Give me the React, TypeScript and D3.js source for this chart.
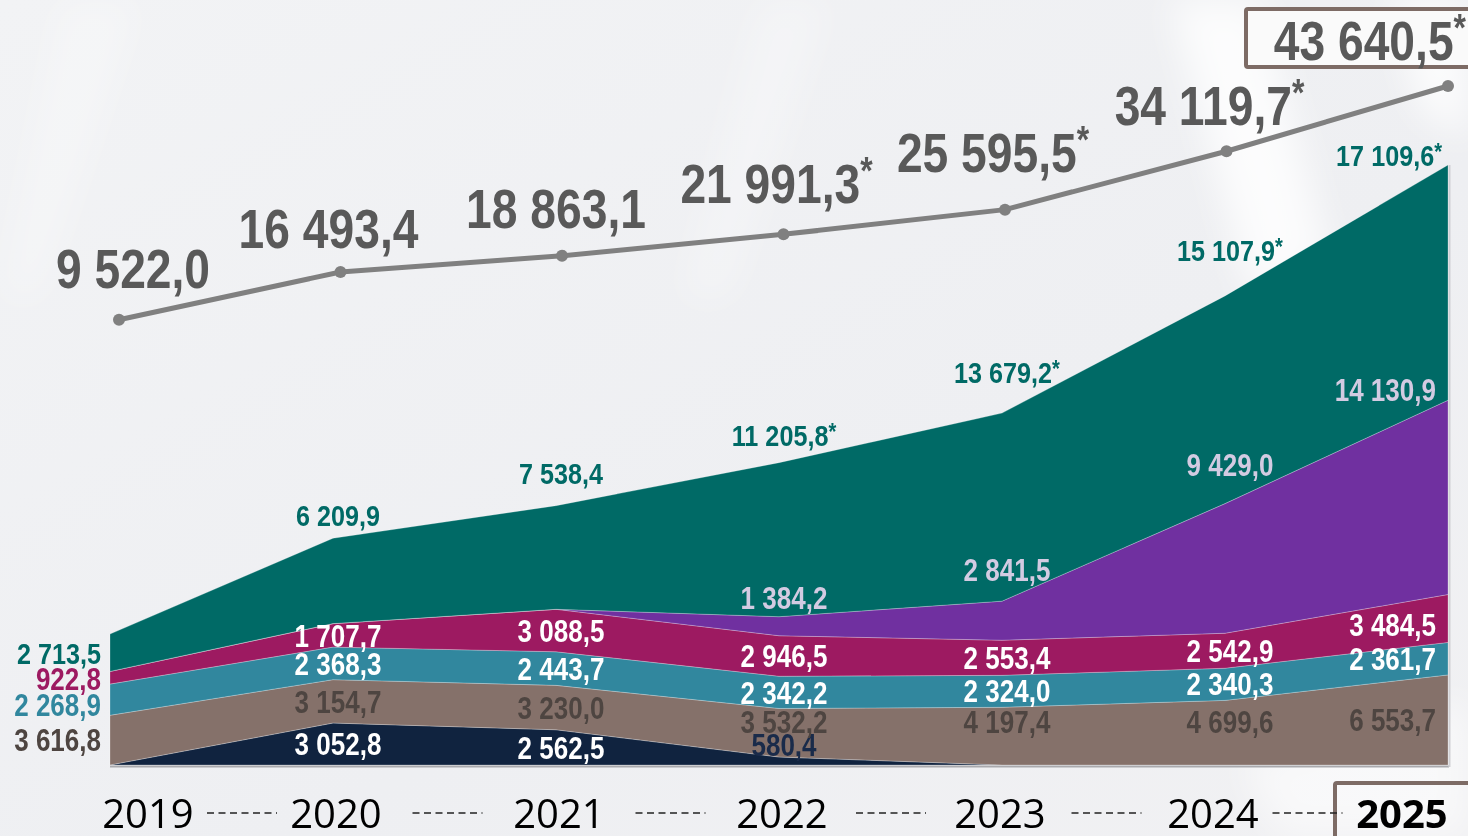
import React from 'react';
import * as d3 from 'd3';

// ---------- DATA ----------
const years = ['2019', '2020', '2021', '2022', '2023', '2024', '2025'];
const navySeries = [0, 3052.8, 2562.5, 580.4, 0, 0, 0];
const brownSeries = [3616.8, 3154.7, 3230.0, 3532.2, 4197.4, 4699.6, 6553.7];
const tealSeries = [2268.9, 2368.3, 2443.7, 2342.2, 2324.0, 2340.3, 2361.7];
const magentaSeries = [922.8, 1707.7, 3088.5, 2946.5, 2553.4, 2542.9, 3484.5];
const purpleSeries = [0, 0, 0, 1384.2, 2841.5, 9429.0, 14130.9];
const greenSeries = [2713.5, 6209.9, 7538.4, 11205.8, 13679.2, 15107.9, 17109.6];
const totals = [9522.0, 16493.4, 18863.1, 21991.3, 25595.5, 34119.7, 43640.5];
const totalStar = [false, false, false, true, true, true, true];
const greenStar = [false, false, false, true, true, true, true];

// ---------- LAYOUT ----------
const W = 1468;
const H = 836;
const keys = ['navy', 'brown', 'teal', 'magenta', 'purple', 'green'];
const fills: Record<string, string> = {
  navy: '#10233F',
  brown: '#85716A',
  teal: '#31879E',
  magenta: '#9D1A61',
  purple: '#7030A0',
  green: '#006A66',
};
const firstColColor: Record<string, string> = {
  navy: '#10233F',
  brown: '#4E4541',
  teal: '#31879E',
  magenta: '#9D1A61',
  purple: '#7030A0',
  green: '#006A66',
};
const greenLift = [0, 23, 32, 27, 41, 46, 10];
const purpleLift = [0, 0, 0, 19, 31, 39, 10];
const totalDx = [14, -12, -6, -7, -12, -17, 0];
const totalLift = [32, 24, 28, 31, 38, 26, 26];

const NARROW = "'Liberation Sans', Arial, sans-serif";
const SX = 0.84;
const fmt = d3.formatLocale({ decimal: ',', thousands: '\u00a0', grouping: [3], currency: ['', ''] }).format(',.1f');

export default function App() {
  const rows = years.map((y, i) => ({
    year: y,
    navy: navySeries[i],
    brown: brownSeries[i],
    teal: tealSeries[i],
    magenta: magentaSeries[i],
    purple: purpleSeries[i],
    green: greenSeries[i],
  }));
  const stacked = d3.stack<any>().keys(keys)(rows);

  const xArea = d3.scalePoint<string>().domain(years).range([110, 1448]);
  const xLine = d3.scalePoint<string>().domain(years).range([119, 1448]);
  const yArea = d3.scaleLinear().domain([0, 43640.5]).range([765, 165]);
  const yLine = d3.scaleLinear().domain([0, 43640.5]).range([385, 86]);

  const area = d3
    .area<any>()
    .x((d: any) => xArea(d.data.year)!)
    .y0((d: any) => yArea(d[0]))
    .y1((d: any) => yArea(d[1]));

  const line = d3
    .line<number>()
    .x((_, i) => xLine(years[i])!)
    .y((d) => yLine(d));

  const last = years.length - 1;
  const base = yArea(0);

  // stack labels
  const labels: any[] = [];
  const firstCol: any[] = [];
  stacked.forEach((layer: any) => {
    const key = layer.key;
    layer.forEach((d: any, i: number) => {
      const v = d.data[key];
      if (!v) return;
      const top = yArea(d[1]);
      const bot = yArea(d[0]);
      const mid = (top + bot) / 2;
      let x = xArea(years[i])! + 5;
      let anchor = 'middle';
      let y = mid;
      let color = '#ffffff';
      let star = false;
      let size = 31;
      if (key === 'brown') {
        color = '#4E4541';
        y = Math.min(mid, base - 43);
      }
      if (key === 'navy' && bot - top < 20) {
        color = '#1A2B4A';
        y = top - 12;
      }
      if (key === 'magenta' && i === last) {
        y = mid + 6;
      }
      if (key === 'purple') {
        color = '#D3CBE2';
        y = top - purpleLift[i];
      }
      if (key === 'green') {
        color = '#006A66';
        y = top - greenLift[i];
        star = greenStar[i];
        size = 30;
      }
      if (i === last) {
        x = 1436;
        anchor = 'end';
        if (key === 'green') x = 1442;
      }
      const lab = { key: key + i, x, y, anchor, color, text: fmt(v), star, size };
      if (i === 0) {
        lab.x = 101;
        lab.anchor = 'end';
        lab.color = firstColColor[key];
        lab.y = mid;
        firstCol.push(lab);
      } else {
        labels.push(lab);
      }
    });
  });
  // spread first-column labels (top to bottom) so they don't collide
  firstCol.sort((a, b) => a.y - b.y);
  for (let k = 1; k < firstCol.length; k++) {
    firstCol[k].y = Math.max(firstCol[k].y, firstCol[k - 1].y + 26);
  }
  labels.push(...firstCol);

  const yearX = years.map((y, i) => {
    const x = xArea(y)!;
    if (i === 0) return x + 38;
    if (i === last) return x - 46;
    if (i === 4) return x - 2;
    if (i === 5) return x - 12;
    return x + 3;
  });

  return (
    <svg width={W} height={H} style={{ position: 'absolute', left: 0, top: 0 }}>
      <defs>
        <linearGradient id="bg" x1="0" y1="0" x2="1" y2="1">
          <stop offset="0" stopColor="#F2F3F5" />
          <stop offset="0.6" stopColor="#EEEFF2" />
          <stop offset="1" stopColor="#F1F1F3" />
        </linearGradient>
        <filter id="blur" x="-20%" y="-20%" width="140%" height="140%">
          <feGaussianBlur stdDeviation="18" />
        </filter>
      </defs>
      <rect x={0} y={0} width={W} height={H} fill="url(#bg)" />
      <g filter="url(#blur)" opacity={0.8}>
        <polygon points="1170,0 1260,0 1330,260 1250,300" fill="#FFFFFF" />
        <polygon points="1390,0 1468,0 1468,140 1420,110" fill="#FFFFFF" />
        <polygon points="1240,760 1468,700 1468,836 1280,836" fill="#FFFFFF" opacity={0.7} />
        <polygon points="60,0 140,0 40,300 0,300" fill="#FFFFFF" opacity={0.35} />
        <polygon points="760,0 830,0 730,300 680,300" fill="#FFFFFF" opacity={0.35} />
      </g>

      {/* stacked areas */}
      <g>
        {stacked.map((layer: any) => (
          <path
            key={layer.key}
            d={area(layer) || ''}
            fill={fills[layer.key]}
            stroke="rgba(255,255,255,0.25)"
            strokeWidth={1}
          />
        ))}
      </g>
      <line x1={110} x2={1449} y1={766.5} y2={766.5} stroke="#A9A9AD" strokeWidth={2} />
      <line x1={1449.5} x2={1449.5} y1={165} y2={767} stroke="#D0D0D4" strokeWidth={2} />

      {/* stack labels */}
      <g fontFamily={NARROW} fontWeight="bold">
        {labels.map((l) => (
          <text
            key={l.key}
            transform={`translate(${l.x},${l.y}) scale(${SX},1)`}
            dy="0.36em"
            textAnchor={l.anchor}
            fill={l.color}
            fontSize={l.size}
          >
            {l.text}
            {l.star ? (
              <tspan fontSize={l.size * 0.8} dy="-0.25em">*</tspan>
            ) : null}
          </text>
        ))}
      </g>

      {/* total line */}
      <path d={line(totals) || ''} fill="none" stroke="#808080" strokeWidth={5} strokeLinejoin="round" />
      {totals.map((v, i) => (
        <circle key={i} cx={xLine(years[i])} cy={yLine(v)} r={6} fill="#808080" />
      ))}

      {/* total box */}
      <rect x={1246} y={9} width={240} height={58} fill="#FAFAFA" stroke="#7D6B65" strokeWidth={4} rx={2} />

      <g fontFamily={NARROW} fontWeight="bold" fill="#595959">
        {totals.map((v, i) => {
          const isLast = i === last;
          const x = isLast ? 1466 : xLine(years[i])! + totalDx[i];
          return (
            <text
              key={i}
              transform={`translate(${x},${yLine(v) - totalLift[i]}) scale(${SX},1)`}
              textAnchor={isLast ? 'end' : 'middle'}
              fontSize={55}
            >
              {fmt(v)}
              {totalStar[i] ? (
                <tspan fontSize={38} dy="-0.5em">*</tspan>
              ) : null}
            </text>
          );
        })}
      </g>

      {/* year axis */}
      <rect x={1335} y={783} width={150} height={70} fill="none" stroke="#7D6B65" strokeWidth={4} rx={2} />
      <g fontFamily="'Open Sans', 'Liberation Sans', sans-serif" fontSize={40} fill="#000">
        {years.map((y, i) => (
          <text key={y} x={yearX[i]} y={828} textAnchor="middle" fontWeight={i === last ? 'bold' : 'normal'}>
            {y}
          </text>
        ))}
      </g>
      {years.slice(0, -1).map((y, i) => {
        const c = (yearX[i] + yearX[i + 1]) / 2;
        return (
          <line key={'d' + y} x1={c - 35} x2={c + 35} y1={813} y2={813} stroke="#222" strokeWidth={1.5} strokeDasharray="7 4.5" />
        );
      })}
    </svg>
  );
}
